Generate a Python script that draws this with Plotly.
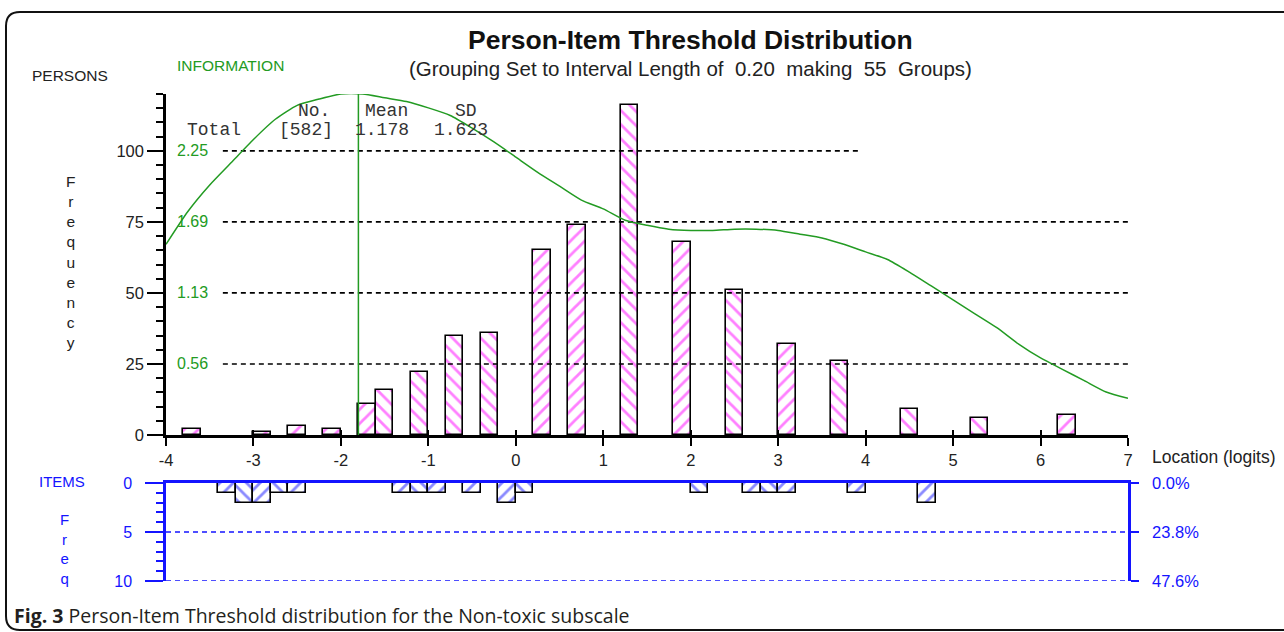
import plotly.graph_objects as go

# ---------------- data ----------------
person_loc = [-3.7, -2.9, -2.5, -2.1, -1.7, -1.5, -1.1, -0.7, -0.3, 0.3, 0.7, 1.3, 1.9, 2.5, 3.1, 3.7, 4.5, 5.3, 6.3]
person_freq = [2, 1, 3, 2, 11, 16, 22, 35, 36, 65, 74, 116, 68, 51, 32, 26, 9, 6, 7]

item_loc = [-3.3, -3.1, -2.9, -2.7, -2.5, -1.3, -1.1, -0.9, -0.5, -0.1, 0.1, 2.1, 2.7, 2.9, 3.1, 3.9, 4.7]
item_freq = [1, 2, 2, 1, 1, 1, 1, 1, 1, 2, 1, 1, 1, 1, 1, 1, 2]

info_loc = [-4.0, -3.75, -3.5, -3.25, -3.0, -2.75, -2.5, -2.25, -2.0, -1.75, -1.5, -1.25, -1.0, -0.75,
            -0.5, -0.25, 0.0, 0.25, 0.5, 0.75, 1.0, 1.25, 1.5, 1.75, 2.0, 2.25, 2.5, 2.75, 3.0, 3.25,
            3.5, 3.75, 4.0, 4.25, 4.5, 4.75, 5.0, 5.25, 5.5, 5.75, 6.0, 6.25, 6.5, 6.75, 7.0]
info_val = [1.51, 1.77, 1.98, 2.16, 2.34, 2.50, 2.61, 2.66, 2.70, 2.70, 2.67, 2.64, 2.59, 2.53,
            2.43, 2.32, 2.20, 2.08, 1.97, 1.86, 1.79, 1.70, 1.66, 1.63, 1.62, 1.62, 1.63, 1.63, 1.62, 1.59,
            1.56, 1.51, 1.45, 1.39, 1.29, 1.18, 1.07, 0.96, 0.85, 0.72, 0.61, 0.52, 0.43, 0.34, 0.29]
info_peak_loc = -1.8
info_peak_val = 2.70

n_persons = 582
n_items = 21
person_mean = 1.178
person_sd = 1.623
interval = 0.20
n_groups = 55

x_ticks = [-4, -3, -2, -1, 0, 1, 2, 3, 4, 5, 6, 7]
freq_ticks = [0, 25, 50, 75, 100]
pct_ticks = [0, 25, 50, 75]
info_ticks = [0.5625, 1.125, 1.6875, 2.25]
info_tick_text = ["0.56", "1.13", "1.69", "2.25"]
grid_levels = [25, 50, 75, 100]
grid_start = -3.35
grid_end = [7, 7, 7, 3.94]
item_ticks = [0, 5, 10]
item_grid = [5, 10]

# ---------------- layout helpers ----------------
L, R, T, B = 166, 1128, 94, 581
W, H = R - L, B - T


def px(x):
    return (x - L) / W


def py(y):
    return (B - y) / H


FONT = "Liberation Sans, Arial, sans-serif"
GREEN = "#239b23"
BLUE = "#1414ff"
MAG = "#ff00ff"


def hatch(loc):
    idx = round((loc + 4) / interval - 0.5)
    return "/" if idx % 2 == 1 else "\\"


fig = go.Figure()

# person bars
fig.add_trace(go.Bar(
    x=person_loc, y=person_freq, width=interval, xaxis="x", yaxis="y",
    marker=dict(color="white", line=dict(color="black", width=1.6),
                pattern=dict(shape=[hatch(v) for v in person_loc], fgcolor=MAG, bgcolor="white",
                             fillmode="overlay", size=10, solidity=0.28)),
    hoverinfo="x+y", showlegend=False))

# dashed grid lines (top)
for lev, end in zip(grid_levels, grid_end):
    fig.add_trace(go.Scatter(x=[grid_start, end], y=[lev, lev], mode="lines", xaxis="x", yaxis="y",
                             line=dict(color="black", width=1.6, dash="5px,4px"),
                             hoverinfo="skip", showlegend=False))

# information curve
fig.add_trace(go.Scatter(x=info_loc, y=info_val, mode="lines", xaxis="x", yaxis="y3",
                         line=dict(color=GREEN, width=1.5, shape="spline", smoothing=0.6),
                         showlegend=False))
fig.add_trace(go.Scatter(x=[info_peak_loc, info_peak_loc], y=[0, info_peak_val], mode="lines",
                         xaxis="x", yaxis="y3", line=dict(color=GREEN, width=1.5),
                         hoverinfo="skip", showlegend=False))

# overlay axis for inner tick marks
fig.add_trace(go.Scatter(x=[x_ticks[0]], y=[0], mode="markers", xaxis="x3", yaxis="y",
                         marker=dict(opacity=0), hoverinfo="skip", showlegend=False))

# item bars
fig.add_trace(go.Bar(
    x=item_loc, y=item_freq, width=interval, xaxis="x2", yaxis="y4",
    marker=dict(color="white", line=dict(color="black", width=1.6),
                pattern=dict(shape=[hatch(v) for v in item_loc], fgcolor=BLUE, bgcolor="white",
                             fillmode="overlay", size=9.5, solidity=0.3)),
    hoverinfo="x+y", showlegend=False))
for lev in item_grid:
    fig.add_trace(go.Scatter(x=[x_ticks[0], x_ticks[-1]], y=[lev, lev], mode="lines", xaxis="x2", yaxis="y4",
                             line=dict(color=BLUE, width=1.6, dash="5px,4px"),
                             hoverinfo="skip", showlegend=False))
fig.add_trace(go.Scatter(x=[x_ticks[0]], y=[0], mode="markers", xaxis="x2", yaxis="y5",
                         marker=dict(opacity=0), hoverinfo="skip", showlegend=False))

top_dom = [py(435), 1.0]
bot_dom = [0.0, py(483)]

fig.update_layout(
    width=1284, height=632, autosize=False,
    margin=dict(l=L, r=1284 - R, t=T, b=632 - B, pad=0),
    paper_bgcolor="white", plot_bgcolor="white",
    font=dict(family=FONT, color="#222"),
    bargap=0, barmode="overlay", showlegend=False,
    xaxis=dict(domain=[0, 1], range=[x_ticks[0], x_ticks[-1]], anchor="y",
               showline=True, linecolor="black", linewidth=2.5,
               tickvals=x_ticks, ticktext=[str(v) for v in x_ticks],
               ticks="outside", ticklen=8, tickwidth=1.8, tickcolor="black",
               tickfont=dict(size=16.5, color="#222"), showgrid=False, zeroline=False),
    xaxis3=dict(overlaying="x", range=[x_ticks[0], x_ticks[-1]], anchor="y",
                tickvals=x_ticks, ticks="inside", ticklen=5, tickwidth=1.8, tickcolor="black",
                showticklabels=False, showgrid=False, zeroline=False, showline=False),
    yaxis=dict(domain=top_dom, range=[0, 120], anchor="x",
               showline=True, linecolor="black", linewidth=2.5,
               tickvals=freq_ticks, ticks="outside", ticklen=16, tickwidth=1.8, tickcolor="black",
               minor=dict(dtick=5, tick0=0, ticks="outside", ticklen=7, tickwidth=1.8, tickcolor="black"),
               tickfont=dict(size=16.5, color="#222"), showgrid=False, zeroline=False),
    yaxis2=dict(overlaying="y", side="right", anchor="x", range=[0, 120],
                showline=True, linecolor="black", linewidth=2.5,
                tickvals=pct_ticks, ticktext=[f"{v / n_persons * 100:.1f}%" for v in pct_ticks],
                ticks="outside", ticklen=8, tickwidth=1.8, tickcolor="black", ticklabelstandoff=10,
                tickfont=dict(size=16.5, color="#222"), showgrid=False, zeroline=False),
    yaxis3=dict(overlaying="y", side="left", anchor="x", range=[0, 120 * 2.25 / 100],
                showticklabels=False, ticks="", showline=False, showgrid=False, zeroline=False),
    xaxis2=dict(domain=[0, 1], range=[x_ticks[0], x_ticks[-1]], anchor="y4", side="top",
                showline=True, linecolor=BLUE, linewidth=3, ticks="", showticklabels=False,
                showgrid=False, zeroline=False),
    yaxis4=dict(domain=bot_dom, range=[10, 0], anchor="x2",
                showline=True, linecolor=BLUE, linewidth=2.5,
                tickvals=item_ticks, ticks="outside", ticklen=18, tickwidth=1.8, tickcolor=BLUE,
                ticklabelstandoff=10,
                minor=dict(dtick=1, tick0=0, ticks="outside", ticklen=7, tickwidth=1.8, tickcolor=BLUE),
                tickfont=dict(size=16, color=BLUE), showgrid=False, zeroline=False),
    yaxis5=dict(overlaying="y4", side="right", anchor="x2", range=[10, 0],
                showline=True, linecolor=BLUE, linewidth=2.5,
                tickvals=item_ticks, ticktext=[f"{v / n_items * 100:.1f}%" for v in item_ticks],
                ticks="outside", ticklen=8, tickwidth=1.8, tickcolor=BLUE, ticklabelstandoff=10,
                tickfont=dict(size=16.5, color=BLUE), showgrid=False, zeroline=False),
)

ann = []


def add_text(text, x, y, size, color="#222", xanchor="left", family=FONT, yanchor="middle"):
    ann.append(dict(text=text, x=px(x), y=py(y), xref="paper", yref="paper", showarrow=False,
                    xanchor=xanchor, yanchor=yanchor, font=dict(size=size, color=color, family=family)))


add_text("<b>Person-Item Threshold Distribution</b>", 690, 40, 26.5, "#111", "center")
add_text(f"(Grouping Set to Interval Length of  {interval:.2f}  making  {n_groups}  Groups)", 690, 68, 20.5, "#222", "center")
add_text("PERSONS", 30, 75, 15.5)
add_text("INFORMATION", 175, 65, 15.5, GREEN)
add_text("<br>".join(list("Frequency")), 70, 262, 15.5, "#222", "center")
add_text("Location (logits)", 1150, 457, 17.5)
add_text("ITEMS", 62, 481, 15, BLUE, "center")
add_text("<br>".join(list("Freq")), 64, 549, 15, BLUE, "center")

# information scale labels (green, inside the left axis)
for v, t in zip(info_ticks, info_tick_text):
    ann.append(dict(text=t, x=px(175), y=v, xref="paper", yref="y3", showarrow=False,
                    xanchor="left", yanchor="middle", font=dict(size=16, color=GREEN, family=FONT)))

MONO = "Liberation Mono, Courier New, monospace"
add_text("No.", 296, 111, 18, "#333", family=MONO)
add_text("Mean", 363, 111, 18, "#333", family=MONO)
add_text("SD", 453, 111, 18, "#333", family=MONO)
add_text("Total", 185, 130, 18, "#333", family=MONO)
add_text(f"[{n_persons}]", 277, 130, 18, "#333", family=MONO)
add_text(f"{person_mean:.3f}", 353, 130, 18, "#333", family=MONO)
add_text(f"{person_sd:.3f}", 432, 130, 18, "#333", family=MONO)

add_text("<b>Fig. 3</b> Person-Item Threshold distribution for the Non-toxic subscale", 12, 615, 19.5, "#231f20",
         family="Open Sans, Noto Sans, sans-serif")

fig.update_layout(annotations=ann)

# rounded frame
r = 14
x0, y0, x1, y1 = 6, 12, 1300, 630
path = (f"M {px(x1)} {py(y0)} L {px(x0 + r)} {py(y0)} Q {px(x0)} {py(y0)} {px(x0)} {py(y0 + r)} "
        f"L {px(x0)} {py(y1 - r)} Q {px(x0)} {py(y1)} {px(x0 + r)} {py(y1)} L {px(x1)} {py(y1)}")
fig.add_shape(type="path", path=path, xref="paper", yref="paper", line=dict(color="#111", width=2))

fig.write_html("out.html", config={"displayModeBar": False},
               post_script="document.body.style.margin='0px';document.body.style.overflow='hidden';")
